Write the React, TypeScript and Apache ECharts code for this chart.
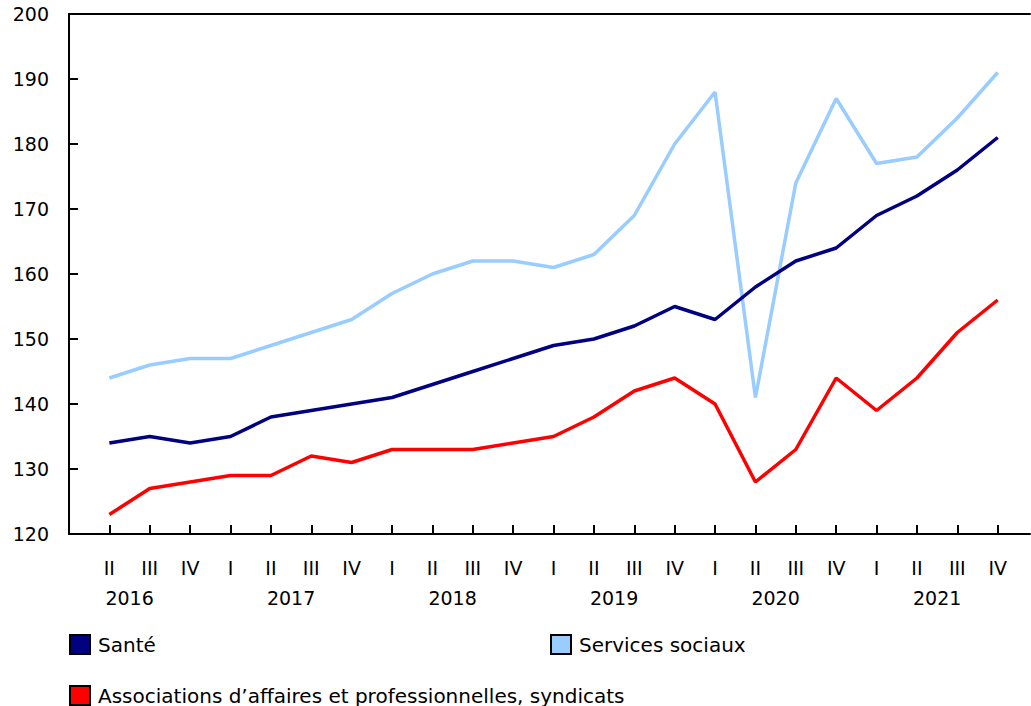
import React, { useEffect, useRef } from "react";
import * as echarts from "echarts";

const quarterLabels = ["II", "III", "IV", "I", "II", "III", "IV", "I", "II", "III", "IV", "I", "II", "III", "IV", "I", "II", "III", "IV", "I", "II", "III", "IV"];
const yearLabels = ["2016", "2017", "2018", "2019", "2020", "2021"];
const yearPositions = [0.5, 4.5, 8.5, 12.5, 16.5, 20.5];

const sante = [134, 135, 134, 135, 138, 139, 140, 141, 143, 145, 147, 149, 150, 152, 155, 153, 158, 162, 164, 169, 172, 176, 181];
const servicesSociaux = [144, 146, 147, 147, 149, 151, 153, 157, 160, 162, 162, 161, 163, 169, 180, 188, 141, 174, 187, 177, 178, 184, 191];
const associations = [123, 127, 128, 129, 129, 132, 131, 133, 133, 133, 134, 135, 138, 142, 144, 140, 128, 133, 144, 139, 144, 151, 156];

const seriesNames = ["Santé", "Services sociaux", "Associations d’affaires et professionnelles, syndicats"];
const seriesColors = ["#000080", "#99ccff", "#ff0000"];

const FONT = "Verdana, 'DejaVu Sans', sans-serif";

export default function App() {
  const ref = useRef<HTMLDivElement>(null);
  useEffect(() => {
    if (!ref.current) return;
    const chart = echarts.init(ref.current, null, { renderer: "svg" });
    const toPairs = (arr: number[]) => arr.map((v, i) => [i, v]);
    const allData = [sante, servicesSociaux, associations];
    const textStyle = { color: "#000", fontSize: 19, fontFamily: FONT };
    const legendBase = {
      icon: "rect",
      itemWidth: 20,
      itemHeight: 19,
      padding: 0,
      itemStyle: { borderColor: "#000", borderWidth: 2 },
      textStyle: { color: "#000", fontSize: 20, fontFamily: FONT, padding: [0, 0, 0, 3] },
      selectedMode: false,
      orient: "horizontal",
    };
    chart.setOption({
      animation: false,
      backgroundColor: "#fff",
      textStyle: { fontFamily: FONT },
      grid: { left: 69, top: 14, right: 1, bottom: 172, containLabel: false },
      xAxis: [
        {
          type: "value",
          position: "bottom",
          min: -1,
          max: 22.8,
          interval: 1,
          axisLine: { show: true, lineStyle: { color: "#000", width: 2 } },
          axisTick: { show: true, inside: true, length: 9, lineStyle: { color: "#000", width: 2 } },
          splitLine: { show: false },
          axisLabel: {
            ...textStyle,
            margin: 24,
            showMinLabel: true,
            showMaxLabel: false,
            formatter: (v: number) => {
              const i = Math.round(v);
              if (Math.abs(v - i) > 1e-6 || i < 0 || i >= quarterLabels.length) return "";
              return quarterLabels[i];
            },
          },
        },
        {
          type: "value",
          position: "bottom",
          min: -1,
          max: 22.8,
          interval: 0.5,
          axisLine: { show: false },
          axisTick: { show: false },
          splitLine: { show: false },
          axisLabel: {
            ...textStyle,
            margin: 54,
            showMaxLabel: false,
            formatter: (v: number) => {
              const idx = yearPositions.findIndex((p) => Math.abs(p - v) < 1e-6);
              return idx >= 0 ? yearLabels[idx] : "";
            },
          },
        },
        {
          type: "value",
          position: "top",
          min: -1,
          max: 22.8,
          axisLine: { show: true, onZero: false, lineStyle: { color: "#000", width: 2 } },
          axisTick: { show: false },
          axisLabel: { show: false },
          splitLine: { show: false },
        },
      ],
      yAxis: {
        type: "value",
        min: 120,
        max: 200,
        interval: 10,
        axisLine: { show: true, onZero: false, lineStyle: { color: "#000", width: 2 } },
        axisTick: { show: true, inside: true, length: 9, lineStyle: { color: "#000", width: 2 } },
        splitLine: { show: false },
        axisLabel: { ...textStyle, margin: 20 },
      },
      legend: [
        { ...legendBase, data: [seriesNames[0]], left: 69, top: 634 },
        { ...legendBase, data: [seriesNames[1]], left: 550, top: 634 },
        { ...legendBase, data: [seriesNames[2]], left: 69, top: 685 },
      ],
      series: allData.map((d, k) => ({
        name: seriesNames[k],
        type: "line",
        xAxisIndex: 0,
        data: toPairs(d),
        showSymbol: false,
        symbol: "none",
        color: seriesColors[k],
        lineStyle: { color: seriesColors[k], width: 3.5 },
        z: 3 - k,
      })),
    });
    return () => chart.dispose();
  }, []);
  return (
    <div
      ref={ref}
      style={{ position: "absolute", left: 0, top: 0, width: 1031, height: 706 }}
    />
  );
}
